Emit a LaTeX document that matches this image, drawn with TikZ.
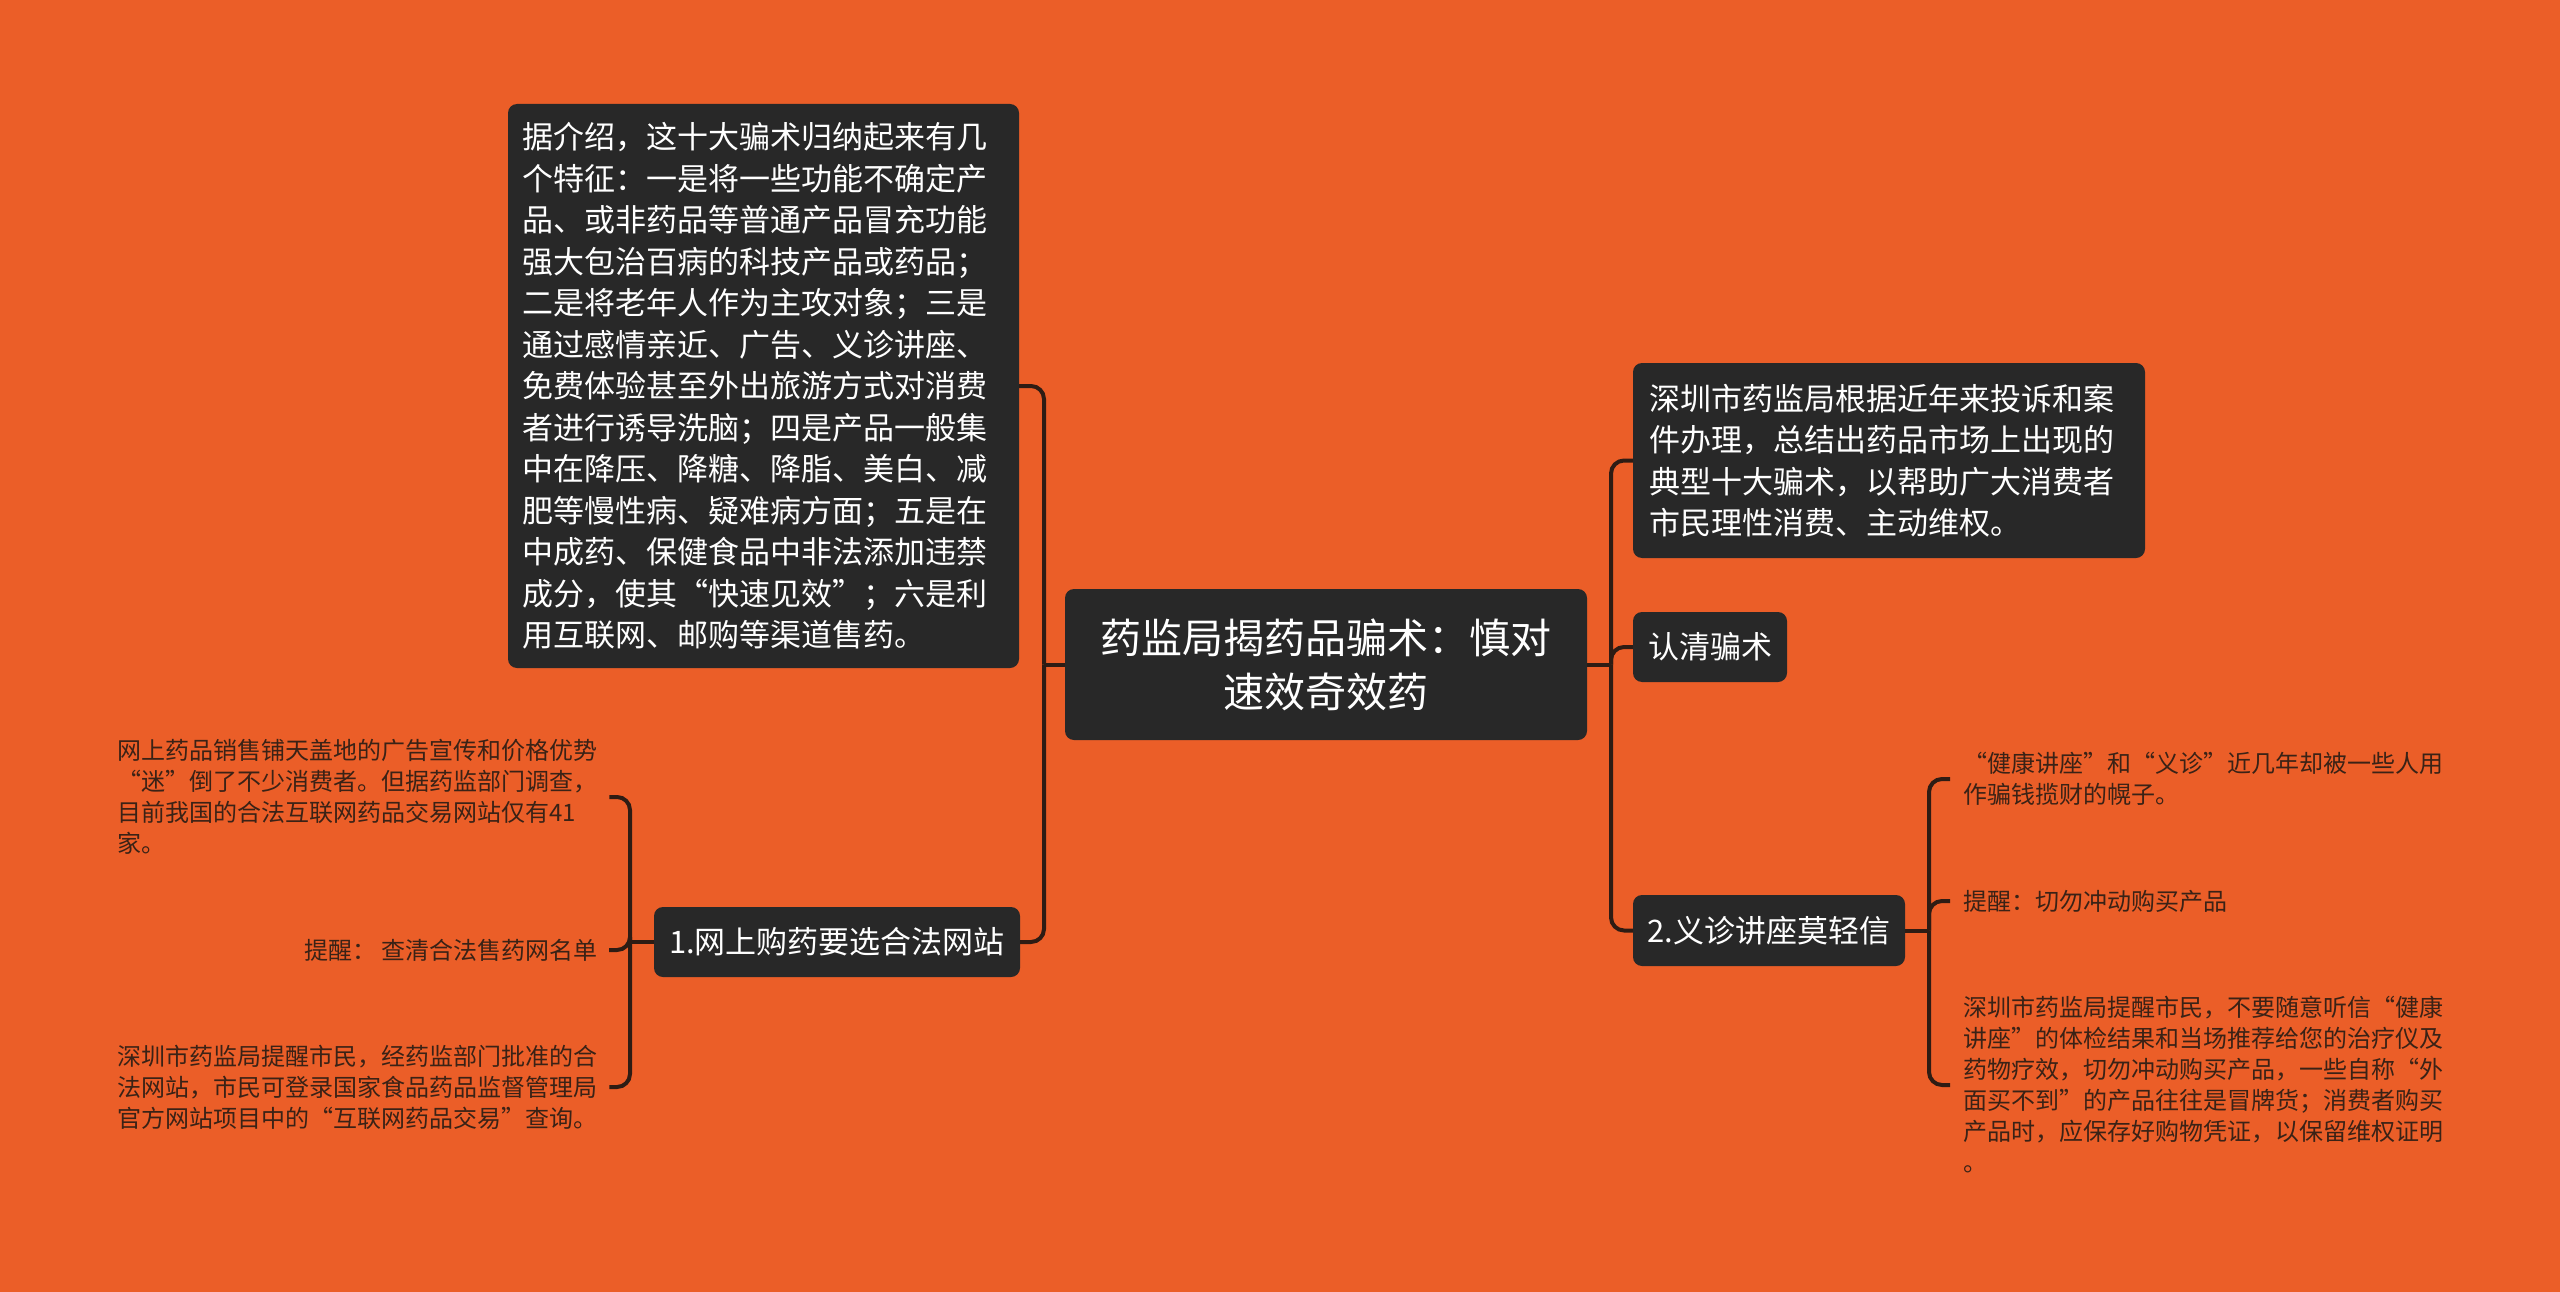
\documentclass[tikz,border=0pt]{standalone}
\usepackage{fontspec}
\setmainfont{Noto Sans CJK SC}
\definecolor{bg}{HTML}{EB5E28}
\definecolor{boxc}{HTML}{282828}
\definecolor{lnk}{HTML}{2E1C14}
\definecolor{leafc}{HTML}{3A2216}
\begin{document}
\begin{tikzpicture}[x=1pt,y=-1pt,
  boxn/.style={fill=boxc, rounded corners=9pt, text=white, inner ysep=0pt,
    font=\fontsize{31}{41.5}\selectfont},
  leafn/.style={text=leafc, inner ysep=0pt, font=\fontsize{24}{31}\selectfont, align=left},
  conn/.style={draw=lnk, line width=4pt, rounded corners=13pt}]
\useasboundingbox (0,0) rectangle (2560,1292);
\fill[bg] (0,0) rectangle (2560,1292);

% central
\node[boxn, minimum width=522pt, minimum height=151pt, align=center,
  font=\fontsize{41}{54}\selectfont] (c) at (1326,664.5)
  {药监局揭药品骗术：慎对\\速效奇效药};

% left big box
\node[boxn, inner xsep=14pt, text width=483pt, minimum height=564pt, align=left] (big) at (763.5,386)
  {据介绍，这十大骗术归纳起来有几\\个特征：一是将一些功能不确定产\\品、或非药品等普通产品冒充功能\\强大包治百病的科技产品或药品；\\二是将老年人作为主攻对象；三是\\通过感情亲近、广告、义诊讲座、\\免费体验甚至外出旅游方式对消费\\者进行诱导洗脑；四是产品一般集\\中在降压、降糖、降脂、美白、减\\肥等慢性病、疑难病方面；五是在\\中成药、保健食品中非法添加违禁\\成分，使其“快速见效”；六是利\\用互联网、邮购等渠道售药。};

% node 1
\node[boxn, minimum width=366pt, minimum height=70pt, align=center] (n1) at (837,942)
  {1.网上购药要选合法网站};

% right box 1
\node[boxn, inner xsep=16pt, text width=480pt, minimum height=195pt, align=left] (r1) at (1889,460.5)
  {深圳市药监局根据近年来投诉和案\\件办理，总结出药品市场上出现的\\典型十大骗术，以帮助广大消费者\\市民理性消费、主动维权。};

\node[boxn, minimum width=154pt, minimum height=70pt, align=center] (rq) at (1710,647)
  {认清骗术};

\node[boxn, minimum width=272pt, minimum height=71pt, align=center] (n2) at (1769,930.5)
  {2.义诊讲座莫轻信};

% left leaves
\node[leafn, anchor=west, inner xsep=11pt, text width=481pt] (l1) at (106,797)
  {网上药品销售铺天盖地的广告宣传和价格优势\\“迷”倒了不少消费者。但据药监部门调查，\\目前我国的合法互联网药品交易网站仅有41\\家。};
\node[leafn, anchor=east, inner xsep=11pt] (l2) at (609,950)
  {提醒： 查清合法售药网名单};
\node[leafn, anchor=west, inner xsep=11pt, text width=481pt] (l3) at (106,1087)
  {深圳市药监局提醒市民，经药监部门批准的合\\法网站，市民可登录国家食品药品监督管理局\\官方网站项目中的“互联网药品交易”查询。};

% right leaves
\node[leafn, anchor=west, inner xsep=13pt, text width=482pt] (ra) at (1950,779)
  {“健康讲座”和“义诊”近几年却被一些人用\\作骗钱揽财的幌子。};
\node[leafn, anchor=west, inner xsep=13pt] (rb) at (1950,901)
  {提醒：切勿冲动购买产品};
\node[leafn, anchor=west, inner xsep=13pt, text width=482pt] (rc) at (1950,1085)
  {深圳市药监局提醒市民，不要随意听信“健康\\讲座”的体检结果和当场推荐给您的治疗仪及\\药物疗效，切勿冲动购买产品，一些自称“外\\面买不到”的产品往往是冒牌货；消费者购买\\产品时，应保存好购物凭证，以保留维权证明\\。};

% junctions
\coordinate (jl) at (1044,664.5);
\coordinate (jr) at (1611,664.5);
\coordinate (j1) at (630,942);
\coordinate (j2) at (1929,930.5);

% connectors
\draw[conn] (c.west) -- (jl);
\draw[conn] (jl) |- (big.east);
\draw[conn] (jl) |- (n1.east);
\draw[conn] (c.east) -- (jr);
\draw[conn] (jr) |- (r1.west);
\draw[conn] (jr) |- (rq.west);
\draw[conn] (jr) |- (n2.west);
\draw[conn] (n1.west) -- (j1);
\draw[conn] (j1) |- (l1.east);
\draw[conn] (j1) |- (l2.east);
\draw[conn] (j1) |- (l3.east);
\draw[conn] (n2.east) -- (j2);
\draw[conn] (j2) |- (ra.west);
\draw[conn] (j2) |- (rb.west);
\draw[conn] (j2) |- (rc.west);
\end{tikzpicture}
\end{document}
